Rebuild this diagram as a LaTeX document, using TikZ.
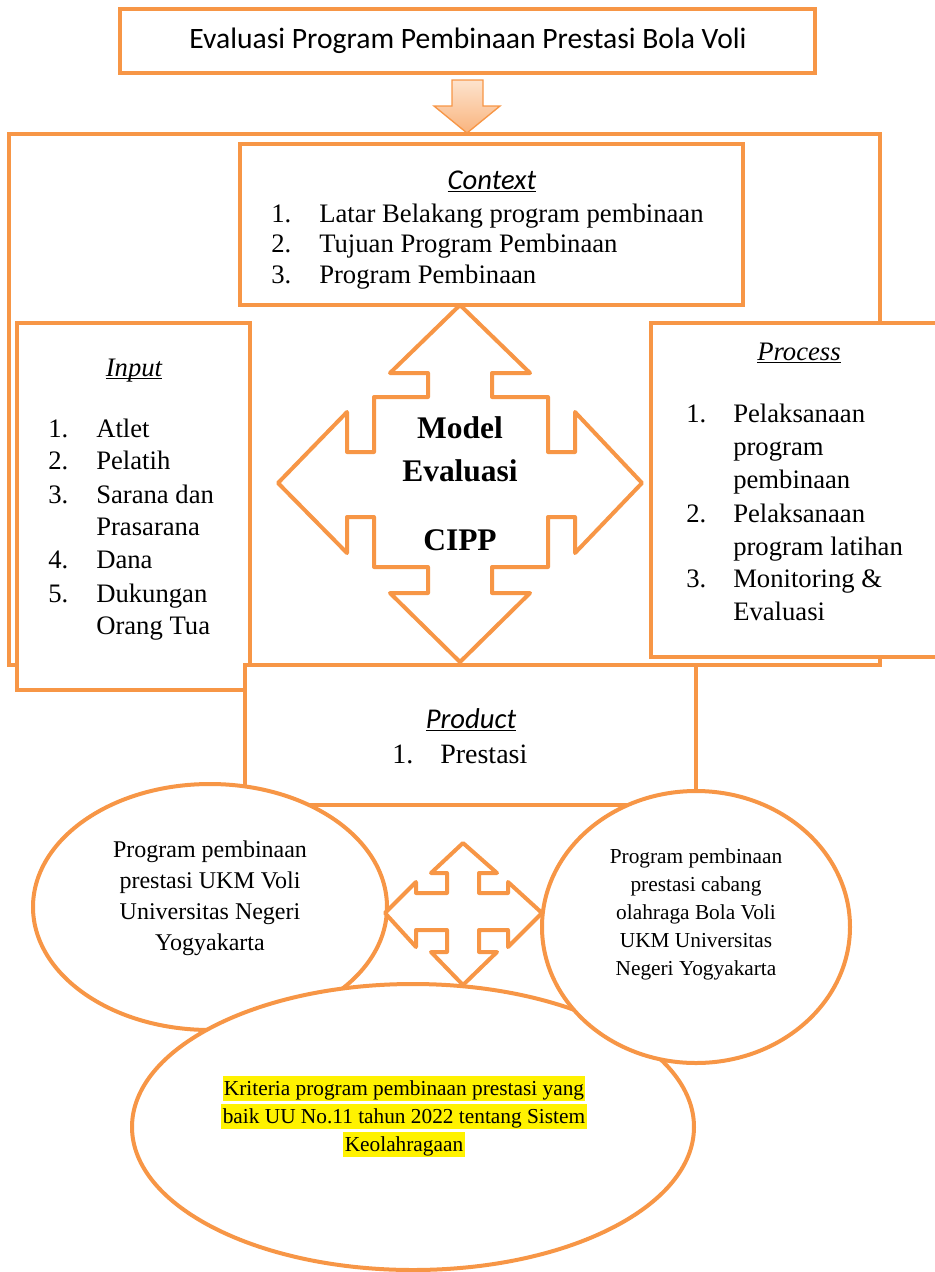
\documentclass[tikz,border=0pt]{standalone}
\usepackage{fontspec}
\setmainfont{Liberation Serif}
\newfontfamily\calfont{Carlito}
\definecolor{org}{HTML}{F79646}
\definecolor{peachtop}{HTML}{FDE3CD}
\definecolor{peachbot}{HTML}{F9B47E}
\newcommand\ulbox[1]{\setbox0=\hbox{#1}\rlap{\rule[-2.6pt]{\wd0}{1.1pt}}\box0}
\tikzset{
  obox/.style={draw=org, line width=3pt, fill=white, line join=miter},
  qarrow/.style={draw=org, line width=3pt, fill=white, line join=round},
  ell/.style={draw=org, line width=3pt, fill=white},
  tt/.style={inner sep=0pt, anchor=base west, font=\fontsize{20}{24}\selectfont},
  tc/.style={inner sep=0pt, anchor=base, font=\fontsize{20}{24}\selectfont},
  bold/.style={inner sep=0pt, anchor=base, font=\fontsize{23.6}{28}\selectfont\bfseries},
  cal/.style={inner sep=0pt, anchor=base, font=\fontsize{21.5}{26}\selectfont\calfont},
  eL/.style={inner sep=0pt, anchor=base, font=\fontsize{18}{22}\selectfont},
  eR/.style={inner sep=0pt, anchor=base, font=\fontsize{16}{19}\selectfont},
  hl/.style={inner xsep=1pt, inner ysep=0pt, anchor=base, fill=yellow, text height=14pt, text depth=4.5pt, font=\fontsize{16}{19}\selectfont},
}
\begin{document}
\begin{tikzpicture}[x=0.75pt,y=-0.75pt]
\useasboundingbox (0,0) rectangle (935,1272);
\clip (0,0) rectangle (935,1272);

% title
\draw[obox] (120,9) rectangle (815,73);
\node[cal, font=\fontsize{22.2}{26}\selectfont\calfont] (title) at (468,48) {Evaluasi Program Pembinaan Prestasi Bola Voli};

% gradient down arrow
\path[draw=org, line width=1pt, top color=peachtop, bottom color=peachbot, line join=miter]
  (452,80) -- (483,80) -- (483,106) -- (500,106) -- (467,133) -- (434,106) -- (452,106) -- cycle;

% outer frame
\draw[obox] (9,134) rectangle (880,665);

% context box
\draw[obox] (240,144) rectangle (743,305);
\node[cal, font=\fontsize{21.5}{26}\selectfont\calfont\itshape] (ctxh) at (492,189) {\ulbox{Context}};
\node[tt] (c1n) at (271,222) {1.};
\node[tt] (c1) at (319,222) {Latar Belakang program pembinaan};
\node[tt] (c2n) at (271,252) {2.};
\node[tt] (c2) at (319,252) {Tujuan Program Pembinaan};
\node[tt] (c3n) at (271,283) {3.};
\node[tt] (c3) at (319,283) {Program Pembinaan};

% input box
\draw[obox] (17,323) rectangle (250,690);
\node[tc, font=\fontsize{20}{24}\selectfont\itshape] (inh) at (134,376) {\ulbox{Input}};
\node[tt] (i1n) at (48,437) {1.};
\node[tt] (i1) at (96,437) {Atlet};
\node[tt] (i2n) at (48,469) {2.};
\node[tt] (i2) at (96,469) {Pelatih};
\node[tt] (i3n) at (48,503) {3.};
\node[tt] (i3) at (96,503) {Sarana dan};
\node[tt] (i3b) at (96,535) {Prasarana};
\node[tt] (i4n) at (48,568) {4.};
\node[tt] (i4) at (96,568) {Dana};
\node[tt] (i5n) at (48,602) {5.};
\node[tt] (i5) at (96,602) {Dukungan};
\node[tt] (i5b) at (96,634) {Orang Tua};

% process box
\draw[obox] (651,323) rectangle (960,657);
\node[tc, font=\fontsize{20}{24}\selectfont\itshape] (prh) at (799,360) {\ulbox{Process}};
\node[tt] (p1n) at (686,422) {1.};
\node[tt] (p1) at (733,422) {Pelaksanaan};
\node[tt] (p1b) at (733,455) {program};
\node[tt] (p1c) at (733,488) {pembinaan};
\node[tt] (p2n) at (686,522) {2.};
\node[tt] (p2) at (733,522) {Pelaksanaan};
\node[tt] (p2b) at (733,555) {program latihan};
\node[tt] (p3n) at (686,587) {3.};
\node[tt] (p3) at (733,587) {Monitoring \&};
\node[tt] (p3b) at (733,620) {Evaluasi};

% big quad arrow
\draw[qarrow] (460,305) -- (530,373) -- (492,373) -- (492,397) -- (548,397) -- (548,452)
  -- (575,452) -- (575,412) -- (642,483) -- (575,553) -- (575,517) -- (548,517)
  -- (548,567) -- (492,567) -- (492,593) -- (530,593) -- (460,662) -- (390,593)
  -- (428,593) -- (428,567) -- (374,567) -- (374,517) -- (347,517) -- (347,553)
  -- (278,483) -- (347,412) -- (347,452) -- (374,452) -- (374,397) -- (428,397)
  -- (428,373) -- (390,373) -- cycle;
\node[bold] (m1) at (460,438) {Model};
\node[bold] (m2) at (460,481) {Evaluasi};
\node[bold] (m3) at (460,550) {CIPP};

% product box
\draw[obox] (245,665) rectangle (696,805);
\node[cal, font=\fontsize{21.5}{26}\selectfont\calfont\itshape] (pdh) at (471,728) {\ulbox{Product}};
\node[tt, font=\fontsize{21}{25}\selectfont] (pd1n) at (392,763) {1.};
\node[tt, font=\fontsize{21}{25}\selectfont] (pd1) at (440,763) {Prestasi};

% left ellipse
\draw[ell] (210,907) ellipse [x radius=177, y radius=123];
\node[eL] (l1) at (210,857) {Program pembinaan};
\node[eL] (l2) at (210,888) {prestasi UKM Voli};
\node[eL] (l3) at (210,919) {Universitas Negeri};
\node[eL] (l4) at (210,950) {Yogyakarta};

% bottom ellipse
\draw[ell] (413,1127) ellipse [x radius=281, y radius=143];
\node[hl] (b1) at (404,1095) {Kriteria program pembinaan prestasi yang};
\node[hl] (b2) at (404,1123) {baik UU No.11 tahun 2022 tentang Sistem};
\node[hl] (b3) at (404,1151) {Keolahragaan};

% right ellipse
\draw[ell] (696,927) ellipse [x radius=154, y radius=136];
\node[eR] (r1) at (696,863) {Program pembinaan};
\node[eR] (r2) at (696,891) {prestasi cabang};
\node[eR] (r3) at (696,919) {olahraga Bola Voli};
\node[eR] (r4) at (696,947) {UKM Universitas};
\node[eR] (r5) at (696,975) {Negeri Yogyakarta};

% small quad arrow
\draw[qarrow] (463,843) -- (497,873) -- (479,873) -- (479,893) -- (508,893) -- (508,882)
  -- (542,913) -- (508,947) -- (508,930) -- (479,930) -- (479,952) -- (497,952)
  -- (463,985) -- (431,952) -- (447,952) -- (447,930) -- (416,930) -- (416,947)
  -- (385,913) -- (416,882) -- (416,893) -- (447,893) -- (447,873) -- (431,873) -- cycle;
\end{tikzpicture}
\end{document}
